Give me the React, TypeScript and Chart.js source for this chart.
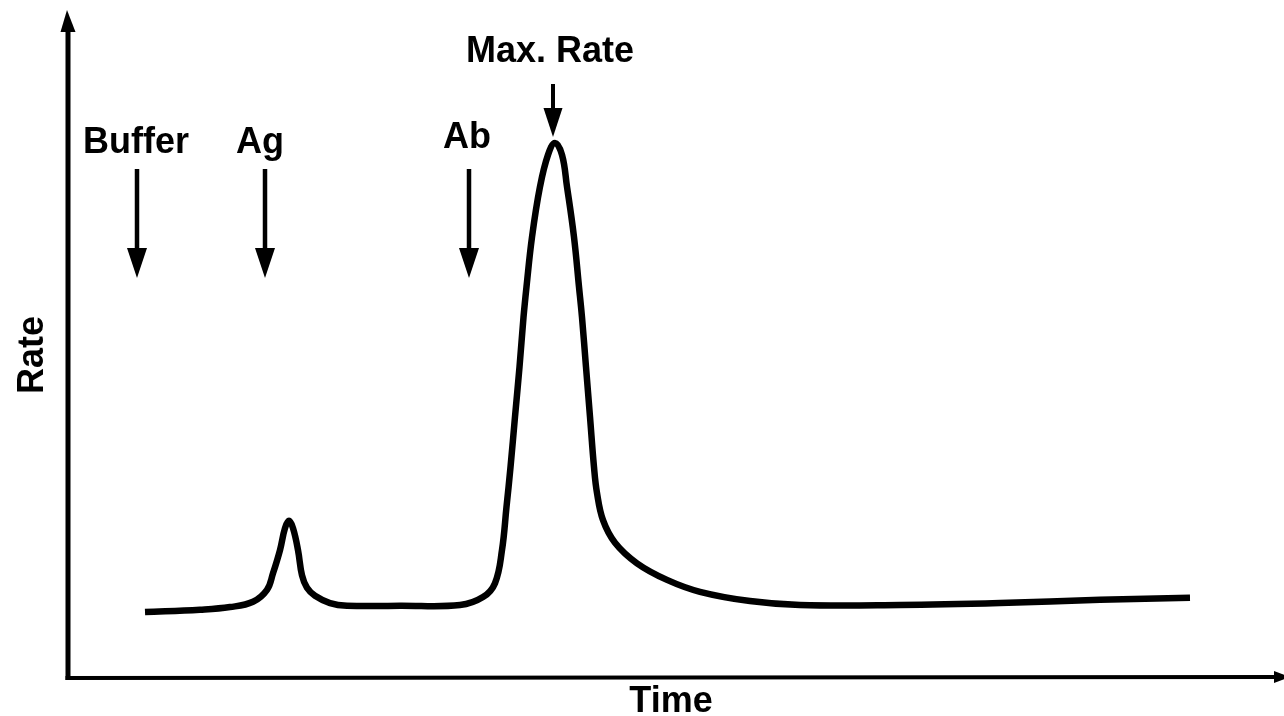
import React, { useEffect, useRef } from "react";
import { Chart, registerables } from "chart.js";

Chart.register(...registerables);

// ---- data (arbitrary units) ----
const timeValues = [
  7.7, 13.2, 16.2, 18.5, 19.9, 20.5, 21.2, 21.7, 22.1, 22.5, 23.0, 23.4, 23.9, 24.7, 26.2, 27.9,
  33.2, 39.2, 41.5, 42.7, 43.4, 43.85, 44.25, 44.7, 45.15, 45.55, 45.85, 46.4, 47.2, 48.0, 48.7,
  49.4, 49.9, 50.6, 51.1, 51.4, 51.8, 52.2, 52.6, 52.9, 53.5, 54.7, 56.9, 59.9, 63.2, 68.2,
  73.2, 83.2, 93.2, 103.2, 112.2,
];
const rateValues = [
  9.95, 10.3, 10.7, 11.5, 13.3, 15.8, 19.3, 22.6, 23.7, 22.6, 19.3, 15.5, 13.6, 12.4, 11.3, 10.9,
  10.9, 11.0, 12.2, 14.3, 19.3, 25.8, 31.8, 39.4, 46.9, 54.4, 59.0, 66.5, 74.1, 78.9, 80.7,
  78.9, 74.1, 66.5, 59.0, 54.4, 46.9, 39.4, 31.8, 27.9, 23.8, 20.4, 17.3, 14.8, 13.0, 11.6,
  11.0, 11.0, 11.3, 11.8, 12.1,
];
const markerLabels = ["Buffer", "Ag", "Ab"];
const markerTimes = [6.9, 19.7, 40.1];
const markerLabelTimes = [6.8, 19.2, 39.9];
const peakLabel = "Max. Rate";
const peakTime = 48.5;
const peakLabelTime = 48.2;
const xAxisTitle = "Time";
const yAxisTitle = "Rate";

const FONT = "bold 36px 'Liberation Sans', Arial, sans-serif";

function downArrow(ctx: CanvasRenderingContext2D, x: number, top: number, headStart: number, tip: number, half: number, shaft: number) {
  ctx.beginPath();
  ctx.lineWidth = shaft;
  ctx.moveTo(x, top);
  ctx.lineTo(x, headStart + 2);
  ctx.stroke();
  ctx.beginPath();
  ctx.moveTo(x - half, headStart);
  ctx.lineTo(x + half, headStart);
  ctx.lineTo(x, tip);
  ctx.closePath();
  ctx.fill();
}

const decorPlugin = {
  id: "decor",
  beforeDraw(chart: any) {
    const { ctx, width, height } = chart;
    ctx.save();
    ctx.fillStyle = "#ffffff";
    ctx.fillRect(0, 0, width, height);
    ctx.restore();
  },
  afterDraw(chart: any) {
    const { ctx, chartArea } = chart;
    const xs = chart.scales.x;
    const left = chartArea.left;
    const bottom = chartArea.bottom;
    ctx.save();
    ctx.strokeStyle = "#000";
    ctx.fillStyle = "#000";
    ctx.lineCap = "butt";

    // y axis
    ctx.beginPath();
    ctx.lineWidth = 5;
    ctx.moveTo(left, bottom + 2);
    ctx.lineTo(left, 30);
    ctx.stroke();
    ctx.beginPath();
    ctx.moveTo(left - 7.5, 32);
    ctx.lineTo(left + 7.5, 32);
    ctx.lineTo(left - 1, 10);
    ctx.closePath();
    ctx.fill();

    // x axis
    ctx.beginPath();
    ctx.lineWidth = 4;
    ctx.moveTo(left - 2.5, bottom);
    ctx.lineTo(1276, bottom - 1);
    ctx.stroke();
    ctx.beginPath();
    ctx.moveTo(1274, bottom - 7);
    ctx.lineTo(1274, bottom + 5);
    ctx.lineTo(1290, bottom - 1);
    ctx.closePath();
    ctx.fill();

    // axis titles
    ctx.font = FONT;
    ctx.textAlign = "center";
    ctx.textBaseline = "alphabetic";
    ctx.fillText(xAxisTitle, 671, 712);
    ctx.save();
    ctx.translate(43, 355);
    ctx.rotate(-Math.PI / 2);
    ctx.fillText(yAxisTitle, 0, 0);
    ctx.restore();

    // markers
    const labelY = [153, 153, 148];
    markerLabels.forEach((lab, i) => {
      const lx = xs.getPixelForValue(markerLabelTimes[i]);
      ctx.fillText(lab, lx, labelY[i]);
      const ax = xs.getPixelForValue(markerTimes[i]);
      downArrow(ctx, ax, 169, 248, 278, 10, 4.5);
    });

    // peak
    const px = xs.getPixelForValue(peakLabelTime);
    ctx.fillText(peakLabel, px, 62);
    downArrow(ctx, xs.getPixelForValue(peakTime), 84, 108, 137, 9.5, 4);
    ctx.restore();
  },
};

export default function App() {
  const ref = useRef<HTMLCanvasElement | null>(null);
  useEffect(() => {
    document.body.style.margin = "0";
    const canvas = ref.current;
    if (!canvas) return;
    const data = timeValues.map((t, i) => ({ x: t, y: rateValues[i] }));
    const chart = new Chart(canvas, {
      type: "line",
      data: {
        datasets: [
          {
            data,
            borderColor: "#000",
            borderWidth: 6.5,
            pointRadius: 0,
            fill: false,
            tension: 0.4,
            borderCapStyle: "butt",
            borderJoinStyle: "round",
          },
        ],
      },
      options: {
        responsive: false,
        animation: false,
        layout: { padding: { left: 68, right: 4, top: 15, bottom: 38 } },
        plugins: { legend: { display: false }, tooltip: { enabled: false }, title: { display: false } },
        scales: {
          x: { type: "linear", display: false, min: 0, max: 121.2 },
          y: { type: "linear", display: false, min: 0, max: 100 },
        },
      },
      plugins: [decorPlugin],
    } as any);
    return () => chart.destroy();
  }, []);
  return <canvas ref={ref} width={1284} height={716} style={{ display: "block" }} />;
}
